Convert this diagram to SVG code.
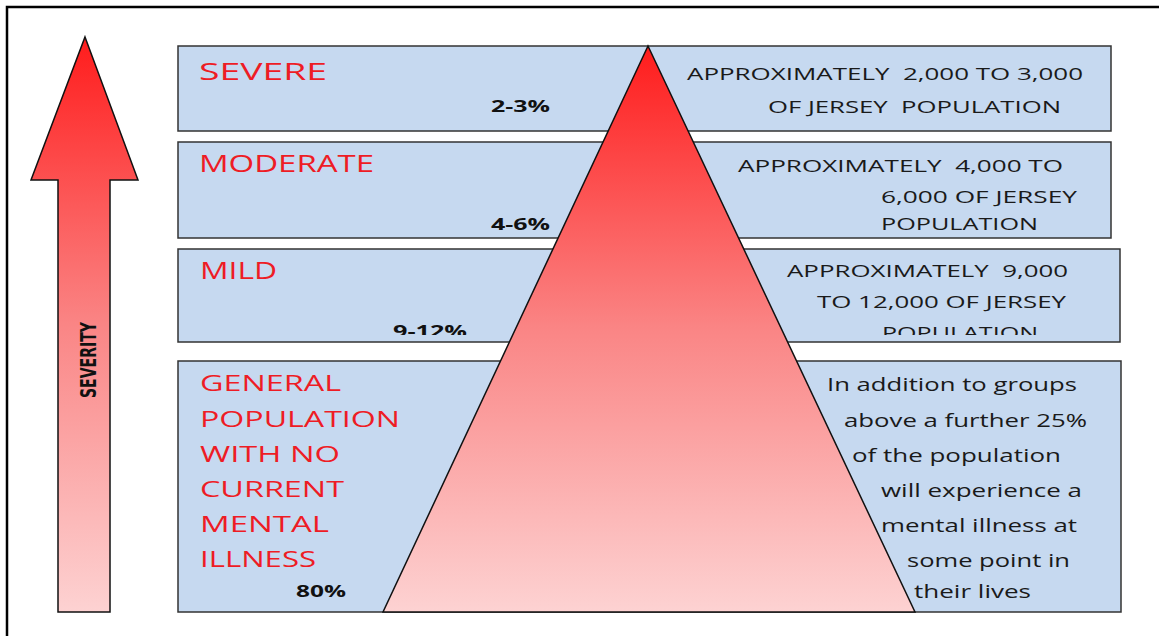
<svg xmlns="http://www.w3.org/2000/svg" width="1159" height="636" viewBox="0 0 1159 636">
<defs>
<linearGradient id="redGrad" x1="0" y1="0" x2="0" y2="1">
<stop offset="0" stop-color="#ff1c1c"/>
<stop offset="0.5" stop-color="#fa8585"/>
<stop offset="1" stop-color="#fdd2d2"/>
</linearGradient>
<clipPath id="clipMild"><rect x="170" y="240" width="960" height="95"/></clipPath>
<style>
.box{fill:#c6d9f0;stroke:#333;stroke-width:1.5}
.red{font-family:"Open Sans","Liberation Sans",sans-serif;fill:#ee1c25}
.big{font-size:22px}
.pct{font-family:"Open Sans","Liberation Sans",sans-serif;font-weight:bold;font-size:16px;fill:#111}
.cap{font-family:"Open Sans","Liberation Sans",sans-serif;font-size:17px;fill:#1a1a1a}
.body{font-family:"Open Sans","Liberation Sans",sans-serif;font-size:18px;fill:#1a1a1a}
</style>
</defs>
<rect width="1159" height="636" fill="#fff"/>
<path d="M7,636 V7 H1159" fill="none" stroke="#000" stroke-width="2.5"/>

<g id="severity-arrow">
<polygon points="85,37 138,180 110,180 110,612 58,612 58,180 31,180" fill="url(#redGrad)" stroke="#111" stroke-width="1.5"/>
<text transform="translate(96,360) rotate(-90)" text-anchor="middle" font-family="'DejaVu Sans Condensed','DejaVu Sans',sans-serif" font-weight="bold" font-size="22" textLength="76" lengthAdjust="spacingAndGlyphs" fill="#111">SEVERITY</text>
</g>

<g id="severe">
<rect class="box" x="178" y="46" width="933" height="85"/>
<text class="red" x="199" y="80" font-size="24" textLength="128" lengthAdjust="spacingAndGlyphs">SEVERE</text>
<text class="pct" x="491" y="112" textLength="59" lengthAdjust="spacingAndGlyphs">2-3%</text>
<text class="cap" x="687" y="80" textLength="396" lengthAdjust="spacingAndGlyphs" xml:space="preserve">APPROXIMATELY  2,000 TO 3,000</text>
<text class="cap" x="768" y="113" textLength="293" lengthAdjust="spacingAndGlyphs" xml:space="preserve">OF JERSEY  POPULATION</text>
</g>

<g id="moderate">
<rect class="box" x="178" y="142" width="933" height="96"/>
<text class="red" x="199" y="172" font-size="24" textLength="175" lengthAdjust="spacingAndGlyphs">MODERATE</text>
<text class="pct" x="491" y="230" textLength="59" lengthAdjust="spacingAndGlyphs">4-6%</text>
<text class="cap" x="738" y="172" textLength="325" lengthAdjust="spacingAndGlyphs" xml:space="preserve">APPROXIMATELY  4,000 TO</text>
<text class="cap" x="881" y="203" textLength="196" lengthAdjust="spacingAndGlyphs">6,000 OF JERSEY</text>
<text class="cap" x="881" y="230" textLength="157" lengthAdjust="spacingAndGlyphs">POPULATION</text>
</g>

<g id="mild">
<rect class="box" x="178" y="249" width="942" height="93"/>
<text class="red" x="200" y="279" font-size="24" textLength="77" lengthAdjust="spacingAndGlyphs">MILD</text>
<g clip-path="url(#clipMild)">
<text class="pct" x="393" y="337" textLength="74" lengthAdjust="spacingAndGlyphs">9-12%</text>
<text class="cap" x="882" y="339" textLength="156" lengthAdjust="spacingAndGlyphs">POPULATION</text>
</g>
<text class="cap" x="787" y="277" textLength="281" lengthAdjust="spacingAndGlyphs" xml:space="preserve">APPROXIMATELY  9,000</text>
<text class="cap" x="817" y="308" textLength="249" lengthAdjust="spacingAndGlyphs">TO 12,000 OF JERSEY</text>
</g>

<g id="general">
<rect class="box" x="178" y="361" width="943" height="251"/>
<g class="red big">
<text x="200" y="391" textLength="141" lengthAdjust="spacingAndGlyphs">GENERAL</text>
<text x="200" y="427" textLength="200" lengthAdjust="spacingAndGlyphs">POPULATION</text>
<text x="200" y="462" textLength="140" lengthAdjust="spacingAndGlyphs">WITH NO</text>
<text x="200" y="497" textLength="144" lengthAdjust="spacingAndGlyphs">CURRENT</text>
<text x="200" y="532" textLength="129" lengthAdjust="spacingAndGlyphs">MENTAL</text>
<text x="200" y="567" textLength="116" lengthAdjust="spacingAndGlyphs">ILLNESS</text>
</g>
<text class="pct" x="296" y="597" textLength="50" lengthAdjust="spacingAndGlyphs">80%</text>
<g class="body">
<text x="827" y="391" textLength="250" lengthAdjust="spacingAndGlyphs">In addition to groups</text>
<text x="844" y="427" textLength="243" lengthAdjust="spacingAndGlyphs">above a further 25%</text>
<text x="852" y="462" textLength="209" lengthAdjust="spacingAndGlyphs">of the population</text>
<text x="881" y="497" textLength="201" lengthAdjust="spacingAndGlyphs">will experience a</text>
<text x="881" y="532" textLength="196" lengthAdjust="spacingAndGlyphs">mental illness at</text>
<text x="907" y="567" textLength="163" lengthAdjust="spacingAndGlyphs">some point in</text>
<text x="914" y="598" textLength="117" lengthAdjust="spacingAndGlyphs">their lives</text>
</g>
</g>

<g id="pyramid">
<polygon points="648,46 915,612 383,612" fill="url(#redGrad)" stroke="#111" stroke-width="1.5"/>
</g>
</svg>
